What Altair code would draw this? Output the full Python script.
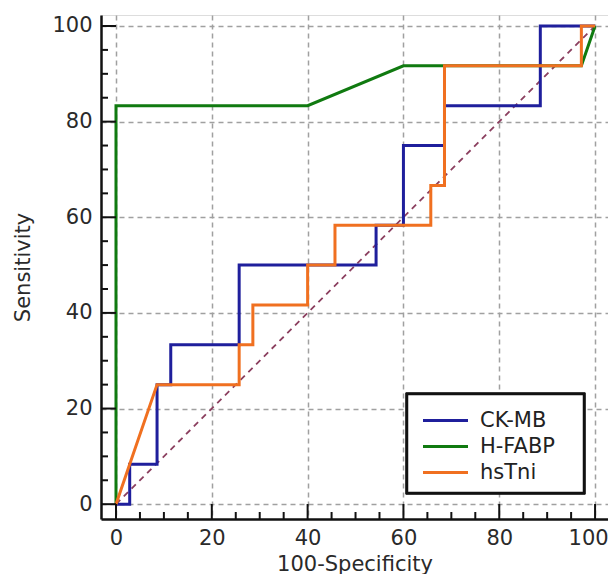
import altair as alt
import pandas as pd

# ---------------- data ----------------
series_names = ["CK-MB", "H-FABP", "hsTni"]
series_colors = ["#1f1f9c", "#107a10", "#f07020"]

ckmb_x = [0, 2.86, 2.86, 8.57, 8.57, 11.43, 11.43, 25.71, 25.71, 54.29, 54.29, 60.0, 60.0, 68.57, 68.57, 88.57, 88.57, 100]
ckmb_y = [0, 0, 8.33, 8.33, 25.0, 25.0, 33.33, 33.33, 50.0, 50.0, 58.33, 58.33, 75.0, 75.0, 83.33, 83.33, 100, 100]

hfabp_x = [0, 0, 40.0, 60.0, 97.14, 100]
hfabp_y = [0, 83.33, 83.33, 91.67, 91.67, 100]

hstni_x = [0, 2.86, 8.57, 25.71, 25.71, 28.57, 28.57, 40.0, 40.0, 45.71, 45.71, 65.71, 65.71, 68.57, 68.57, 97.14, 97.14, 100]
hstni_y = [0, 8.33, 25.0, 25.0, 33.33, 33.33, 41.67, 41.67, 50.0, 50.0, 58.33, 58.33, 66.67, 66.67, 91.67, 91.67, 100, 100]

diag_x = [0, 100]
diag_y = [0, 100]

major_ticks = [0, 20, 40, 60, 80, 100]
minor_ticks = [5, 10, 15, 25, 30, 35, 45, 50, 55, 65, 70, 75, 85, 90, 95]

# ---------------- layout ----------------
W, H = 507, 504
PAD_L, PAD_T, PAD_B, PAD_R = 93, 7, 55, 0
FONT = "DejaVu Sans"
MAJOR_LEN, MINOR_LEN = 15, 7

rows = []
for name, xs, ys in [("CK-MB", ckmb_x, ckmb_y), ("H-FABP", hfabp_x, hfabp_y), ("hsTni", hstni_x, hstni_y)]:
    for i, (a, b) in enumerate(zip(xs, ys)):
        rows.append({"series": name, "i": i, "x": a, "y": b})
curves = pd.DataFrame(rows)
diag = pd.DataFrame({"x": diag_x, "y": diag_y})
maj = pd.DataFrame({"v": major_ticks})
mnr = pd.DataFrame({"v": minor_ticks})

xscale = alt.Scale(domain=[-3.13, 102.7], nice=False, zero=False)
yscale = alt.Scale(domain=[-3.1, 102.3], nice=False, zero=False)

x_axis = alt.Axis(values=major_ticks, grid=True, gridDash=[5, 4], gridColor="#a0a0a0", gridWidth=1.5,
                  ticks=False, domainColor="#111111", domainWidth=2.5, labelFont=FONT, labelFontSize=21,
                  labelColor="#2a2a2a", labelPadding=8,
                  labelOffset={"condition": {"test": "datum.value == 100", "value": -7}, "value": 0},
                  title="100-Specificity", titleFont=FONT,
                  titleFontSize=21, titleFontWeight="normal", titleColor="#2a2a2a",
                  titleBaseline="alphabetic", titleY=51)
y_axis = alt.Axis(values=major_ticks, grid=True, gridDash=[5, 4], gridColor="#a0a0a0", gridWidth=1.5,
                  ticks=False, domainColor="#111111", domainWidth=2.5, labelFont=FONT, labelFontSize=21,
                  labelColor="#2a2a2a", labelPadding=9, title="Sensitivity", titleFont=FONT,
                  titleFontSize=21, titleFontWeight="normal", titleColor="#2a2a2a", titlePadding=18)

base_axes = alt.Chart(maj).mark_rule(opacity=0).encode(
    x=alt.X("v:Q", scale=xscale, axis=x_axis),
    y=alt.Y("v:Q", scale=yscale, axis=y_axis),
)

legend_box = alt.Chart(maj).mark_rect(fill="white", stroke="#111111", strokeWidth=2.5).encode(
    x=alt.value(306), x2=alt.value(483), y=alt.value(379), y2=alt.value(478)
)

diag_line = alt.Chart(diag).mark_line(color="#8b3f5f", strokeDash=[6, 5], strokeWidth=1.8).encode(
    x=alt.X("x:Q", scale=xscale), y=alt.Y("y:Q", scale=yscale)
)

lines = alt.Chart(curves).mark_line(strokeWidth=3, interpolate="linear").encode(
    x=alt.X("x:Q", scale=xscale),
    y=alt.Y("y:Q", scale=yscale),
    order="i:Q",
    color=alt.Color("series:N", scale=alt.Scale(domain=series_names, range=series_colors),
                    legend=alt.Legend(orient="none", legendX=334, legendY=395, title=None,
                                      symbolType="M-3,0H3", symbolSize=225, symbolStrokeWidth=3,
                                      labelFont=FONT, labelFontSize=21, labelColor="#222222",
                                      labelOffset=24, padding=0, rowPadding=4)),
)

xt_major = alt.Chart(maj).mark_rule(color="#111111", strokeWidth=2).encode(
    x=alt.X("v:Q", scale=xscale), y=alt.value(H), y2=alt.value(H - MAJOR_LEN))
xt_minor = alt.Chart(mnr).mark_rule(color="#111111", strokeWidth=2).encode(
    x=alt.X("v:Q", scale=xscale), y=alt.value(H), y2=alt.value(H - MINOR_LEN))
yt_major = alt.Chart(maj).mark_rule(color="#111111", strokeWidth=2).encode(
    y=alt.Y("v:Q", scale=yscale), x=alt.value(0), x2=alt.value(MAJOR_LEN))
yt_minor = alt.Chart(mnr).mark_rule(color="#111111", strokeWidth=2).encode(
    y=alt.Y("v:Q", scale=yscale), x=alt.value(0), x2=alt.value(MINOR_LEN))

chart = alt.layer(
    base_axes, legend_box, diag_line, lines, xt_major, xt_minor, yt_major, yt_minor
).properties(
    width=W, height=H,
    autosize=alt.AutoSizeParams(type="none"),
    padding={"left": PAD_L, "top": PAD_T, "right": PAD_R, "bottom": PAD_B},
).configure_view(stroke=None).configure(background="white")

chart.save("out.html", embed_options={"renderer": "svg", "actions": False})
